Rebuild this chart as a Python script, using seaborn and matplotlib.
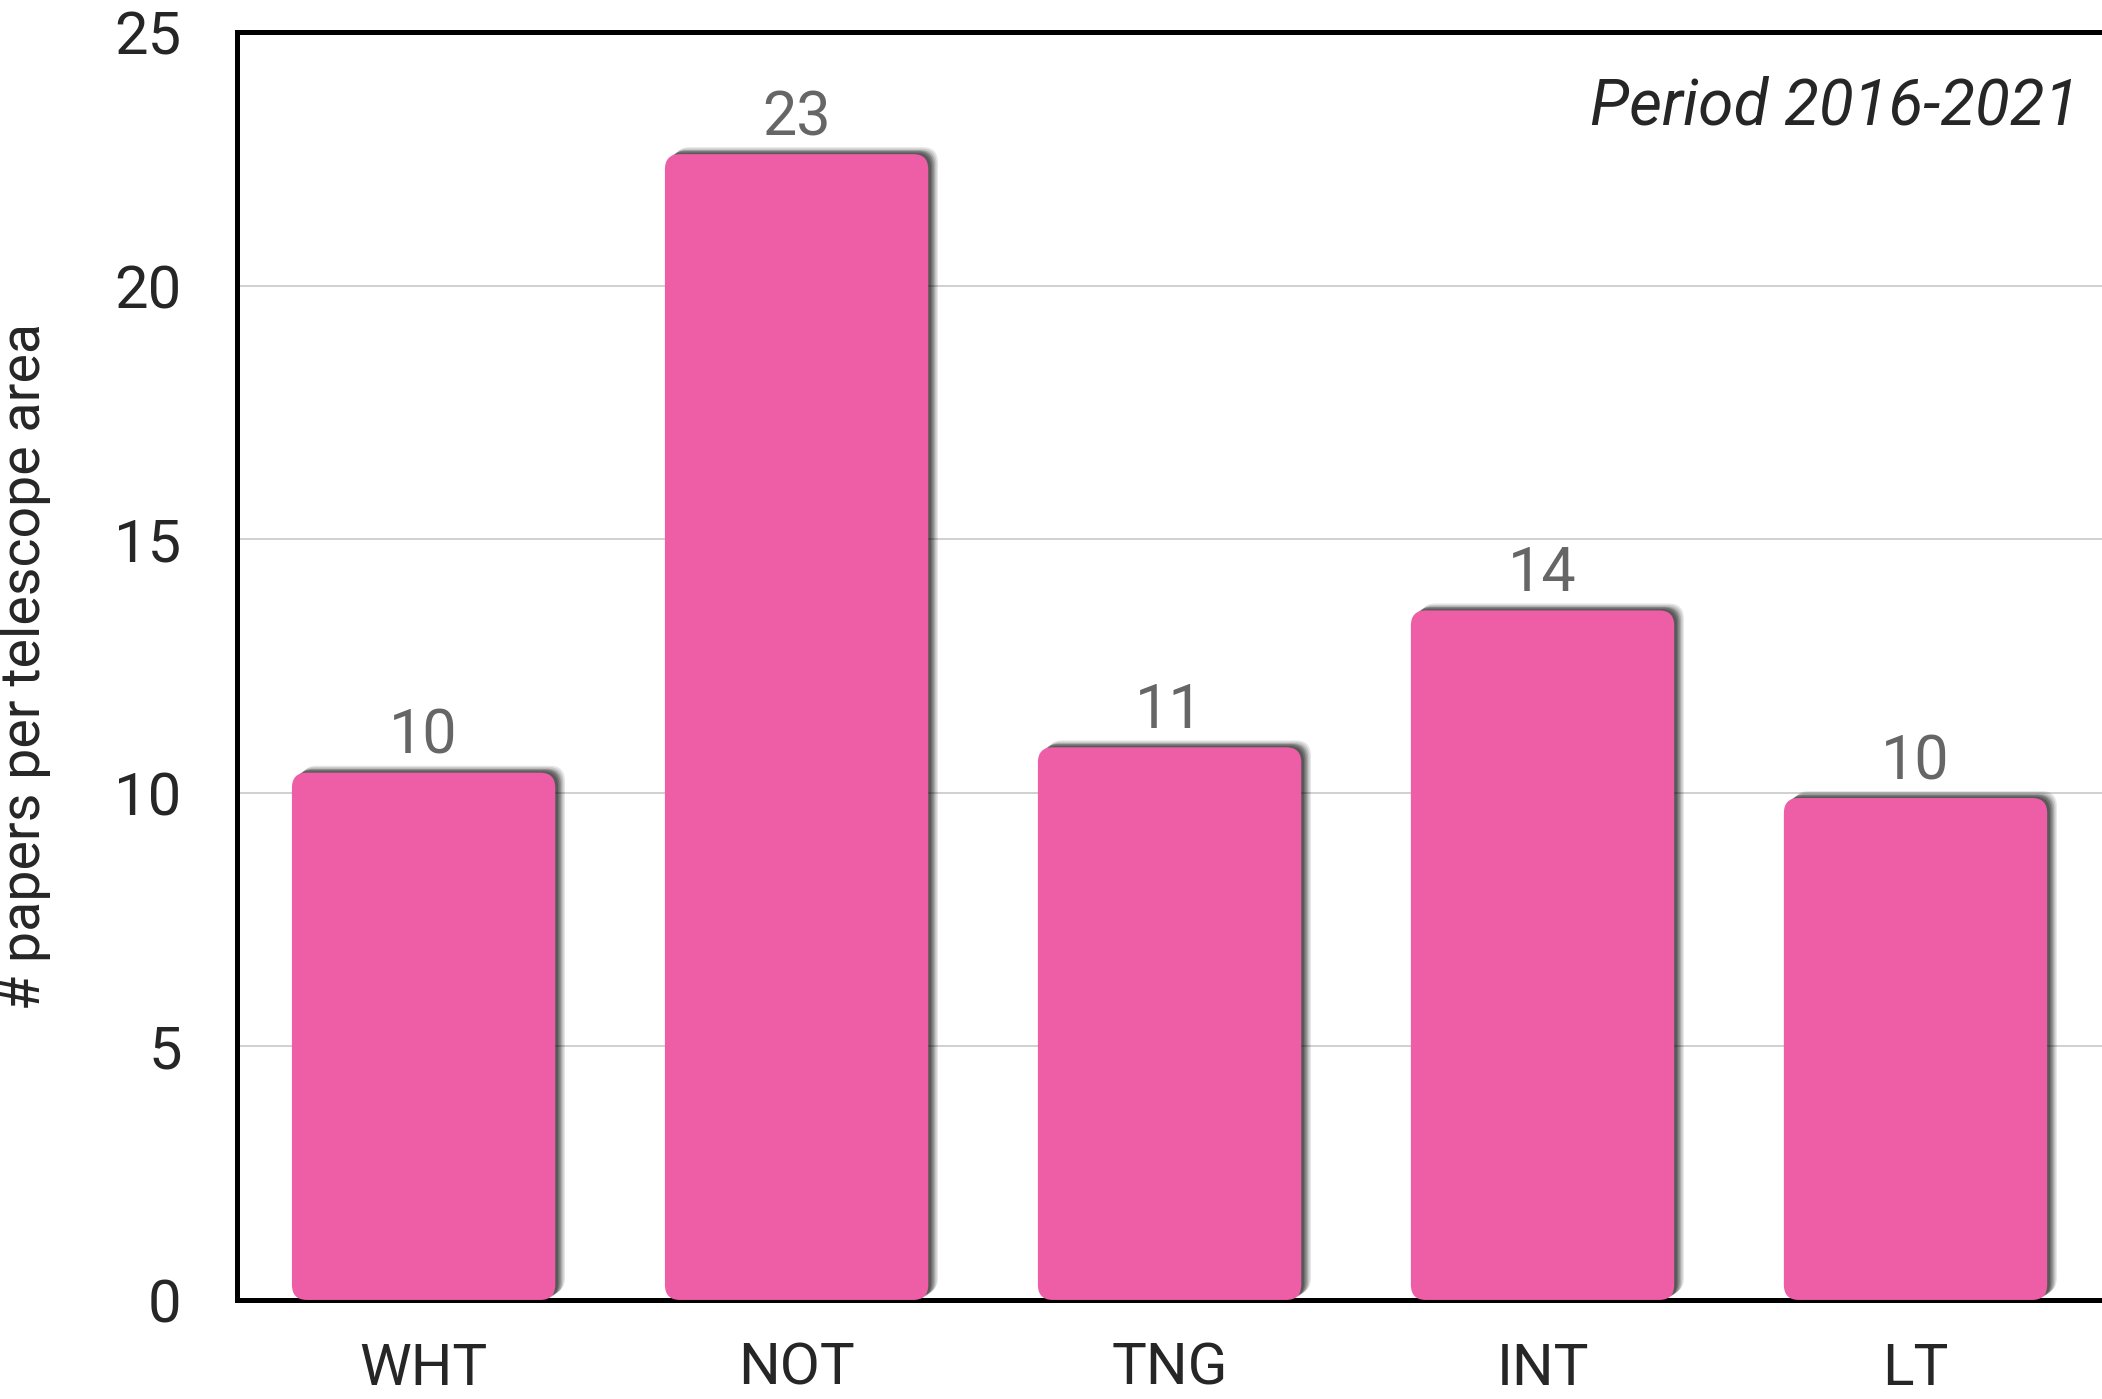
import matplotlib
matplotlib.use('Agg')
import matplotlib.pyplot as plt
import matplotlib.patheffects as pe
from matplotlib.patches import FancyBboxPatch
import seaborn as sns
import pandas as pd

# data
telescopes = ['WHT', 'NOT', 'TNG', 'INT', 'LT']
papers_per_area = [10.4, 22.6, 10.9, 13.6, 9.9]
bar_labels = ['10', '23', '11', '14', '10']

bar_color = '#EE5EA6'

sns.set_style('white')
plt.rcParams['font.family'] = ['Roboto', 'DejaVu Sans']

df = pd.DataFrame({'telescope': telescopes, 'papers': papers_per_area})

fig = plt.figure(figsize=(21.02, 13.99), dpi=100)
ax = fig.add_axes([0.1128, 0.0708, 0.8872, 0.906])

sns.barplot(data=df, x='telescope', y='papers', color=bar_color, saturation=1,
            width=0.706, ax=ax, zorder=3)

# blurred drop shadow faked with a few stacked, faint offset copies
shadow = []
for dx, dy, a in [(7, 5, 0.10), (6, 4, 0.12), (5, 3, 0.15), (4, 2.5, 0.18), (3, 2, 0.2), (2, 1, 0.2)]:
    shadow.append(pe.SimplePatchShadow(offset=(dx, dy), shadow_rgbFace='black', alpha=a, rho=0))
shadow.append(pe.Normal())

# swap plain rectangles for rounded ones
for bar in ax.patches:
    rounded = FancyBboxPatch((bar.get_x(), bar.get_y()), bar.get_width(), bar.get_height(),
                             boxstyle='round,pad=0,rounding_size=0.04', mutation_aspect=7.5,
                             facecolor=bar_color, edgecolor='none', zorder=3)
    rounded.set_path_effects(shadow)
    ax.add_patch(rounded)
    bar.set_visible(False)

ax.bar_label(ax.containers[0], labels=bar_labels, padding=5, fontsize=44, color='#666666')

ax.set_xlim(-0.5, 4.5)
ax.set_ylim(0, 25)
ax.set_yticks([0, 5, 10, 15, 20, 25])
ax.yaxis.grid(True, color='#c8c8c8', linewidth=1.2, zorder=0)
ax.set_axisbelow(True)

ax.tick_params(axis='y', length=0, pad=40, labelsize=43)
ax.tick_params(axis='x', length=0, pad=30, labelsize=42)
ax.set_xlabel('')
ax.set_ylabel('# papers per telescope area', fontsize=40)
ax.yaxis.set_label_coords(-0.1, 0.5)

for side in ['left', 'top', 'bottom']:
    ax.spines[side].set_color('black')
    ax.spines[side].set_linewidth(3.6)
ax.spines['right'].set_visible(False)

ax.text(0.988, 0.927, 'Period 2016-2021', transform=ax.transAxes, ha='right', va='baseline',
        fontsize=46, style='italic')

fig.savefig('out.png', dpi=100)
